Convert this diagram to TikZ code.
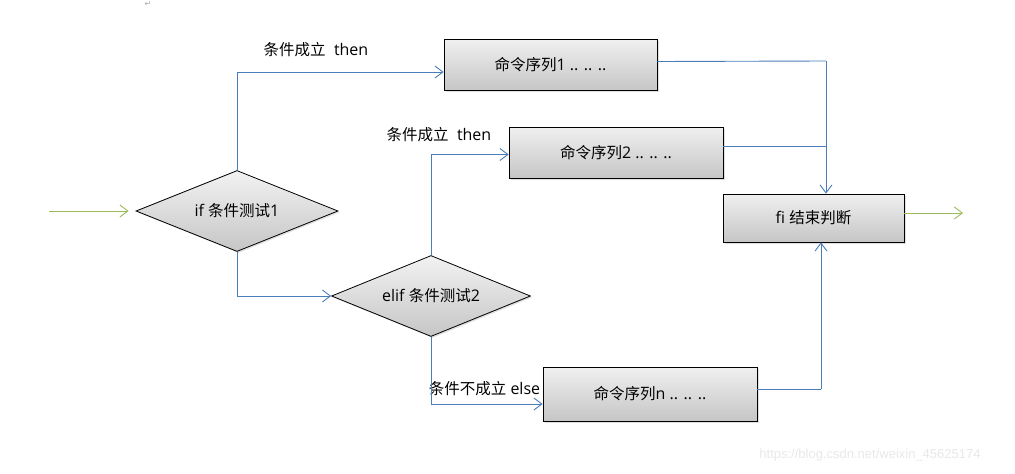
\documentclass[tikz,border=0pt]{standalone}
\usepackage{fontspec}
\setmainfont{Open Sans}
\newfontfamily\cjkf{Noto Sans CJK SC}
\newcommand{\zh}[1]{{\cjkf\fontsize{15.5pt}{17pt}\selectfont #1}}
\newfontfamily\djv{DejaVu Sans}
\newfontfamily\wmfont{Liberation Sans}
\usetikzlibrary{arrows.meta,shapes.geometric,shadows}
\definecolor{flowblue}{HTML}{4A7EBB}
\definecolor{flowgreen}{HTML}{9BBB59}
\tikzset{
  cmdbox/.style={draw=black, line width=0.8pt, top color=gray!12, bottom color=gray!45,
    minimum width=213pt, minimum height=51pt, inner sep=0pt,
    drop shadow={opacity=0.25, shadow xshift=1.5pt, shadow yshift=-1.5pt},
    font=\fontsize{16pt}{18pt}\selectfont},
  testbox/.style={draw=black, line width=0.8pt, diamond, aspect=2.5, top color=gray!10, bottom color=gray!45,
    minimum width=202pt, minimum height=81pt, inner sep=0pt,
    drop shadow={opacity=0.25, shadow xshift=1.5pt, shadow yshift=-1.5pt},
    font=\fontsize{16pt}{18pt}\selectfont},
  flow/.style={draw=flowblue, line width=0.9pt, -{Straight Barb[length=8pt,width=12pt,line width=0.9pt]}},
  flowline/.style={draw=flowblue, line width=0.9pt},
  gflow/.style={draw=flowgreen, line width=0.9pt, -{Straight Barb[length=8pt,width=12pt,line width=0.9pt]}},
  lbl/.style={font=\fontsize{16pt}{18pt}\selectfont, inner sep=0pt}
}
\begin{document}
\begin{tikzpicture}[x=1pt,y=-1pt]
\useasboundingbox (0,0) rectangle (1015,474);
% nodes
\node[testbox] (d1) at (237,211) {if \zh{条件测试}1\hspace{14pt}};
\node[testbox, minimum width=199pt] (d2) at (431,296) {elif \zh{条件测试}2\hspace{-6pt}};
\node[cmdbox] (b1) at (550.5,65) {\zh{命令序列}1 .. .. ..\hspace{12pt}};
\node[cmdbox, minimum width=214pt] (b2) at (616,152.5) {\zh{命令序列}2 .. .. ..\hspace{20pt}};
\node[cmdbox, minimum width=214pt, minimum height=54pt] (bn) at (650,394) {\zh{命令序列}n .. .. ..\hspace{40pt}};
\node[cmdbox, minimum width=181pt, minimum height=48pt] (fi) at (813.5,218) {fi \zh{结束判断}\hspace{10pt}};
% free ends
\coordinate (in) at (49,211);
\coordinate (out) at (963,213);
\coordinate (j1) at (826,61);
\coordinate (j2) at (821,389);
\coordinate (b2o) at ([yshift=6pt]b2.east);
% labels
\node[lbl] (l1) at (316,50) {\zh{条件成立}\ \ then};
\node[lbl] (l2) at (439,135) {\zh{条件成立}\ \ then};
\node[lbl] (l3) at (484.5,389) {\zh{条件不成立} else};
% connectors
\draw[gflow] (in) -- ([xshift=-7pt]d1.west);
\draw[flow] (d1.north) |- ([yshift=-7pt]b1.west);
\draw[flow] (d1.south) |- (d2.west);
\draw[flow] (d2.north) |- ([yshift=-2pt]b2.west);
\draw[flow] (d2.south) |- ([yshift=-10pt]bn.west);
\draw[flowline] ([yshift=3.5pt]b1.east) -- (j1);
\draw[flow] (j1) -- (j1 |- fi.north);
\draw[flowline] (b2o) -- (j1 |- b2o);
\draw[flowline] ([yshift=5pt]bn.east) -- (j2);
\draw[flow] (j2) -- (j2 |- fi.south);
\draw[gflow] ([yshift=5pt]fi.east) -- (out);
% marks
\node[text=gray!70, font=\djv\fontsize{8pt}{8pt}\selectfont, inner sep=0pt] (ret) at (148,4) {↵};
\node[text=gray!18, font=\wmfont\fontsize{13pt}{14pt}\selectfont, inner sep=0pt] (wm) at (870,455) {https://blog.csdn.net/weixin\_45625174};
\end{tikzpicture}
\end{document}
